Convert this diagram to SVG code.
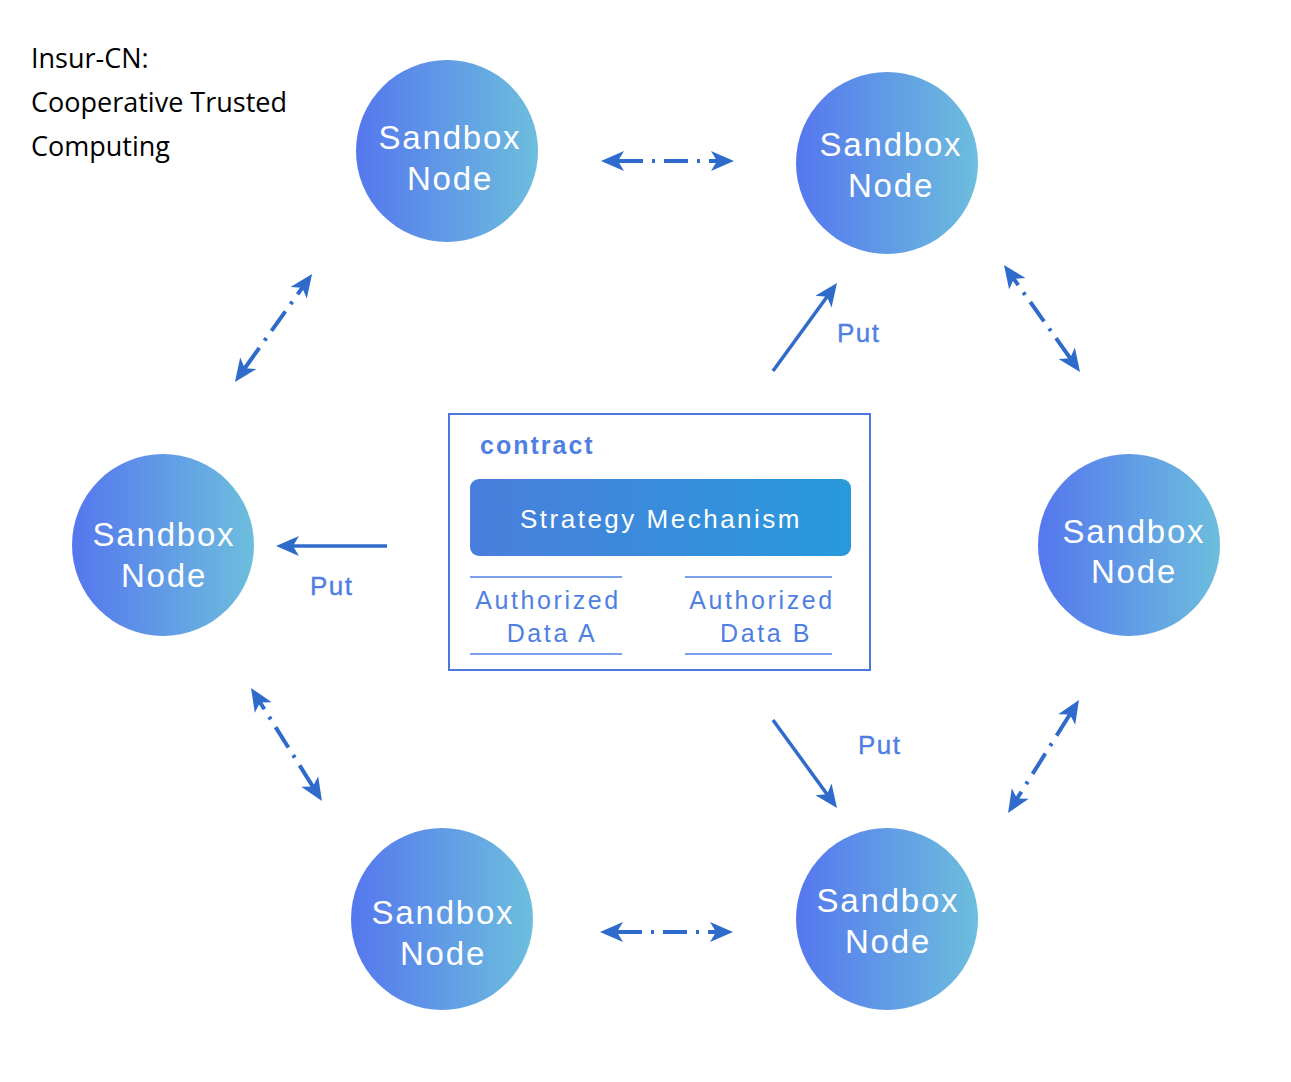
<svg xmlns="http://www.w3.org/2000/svg" width="1291" height="1082" viewBox="0 0 1291 1082">
<defs>
<linearGradient id="gNode" x1="0" y1="0" x2="1" y2="0">
<stop offset="0" stop-color="#5577EE"/>
<stop offset="1" stop-color="#6CBEDD"/>
</linearGradient>
<linearGradient id="gStrat" x1="0" y1="0" x2="1" y2="0">
<stop offset="0" stop-color="#4A7EDC"/>
<stop offset="1" stop-color="#289ADB"/>
</linearGradient>
<marker id="ah" markerUnits="userSpaceOnUse" markerWidth="26" markerHeight="20" refX="15" refY="10" orient="auto-start-reverse" overflow="visible">
<path d="M0,0 L23,10 L0,20 L6,10 Z" fill="#2F6BCB"/>
</marker>
<style>
.node circle{fill:url(#gNode);}
.node text{font-family:"Liberation Sans",Arial,sans-serif;font-size:33px;fill:#FFFFFF;text-anchor:middle;letter-spacing:1.8px;}
.title{font-family:"Open Sans","Noto Sans",sans-serif;font-size:27px;fill:#000000;}
.dd{fill:none;stroke:#2F6BCB;stroke-width:4;stroke-dasharray:34 9 3 9 24 9 3 9 17;marker-start:url(#ah);marker-end:url(#ah);}
.put{fill:none;stroke:#2F6BCB;stroke-width:3.5;marker-end:url(#ah);}
.lbl{font-family:"Liberation Sans",Arial,sans-serif;font-size:26px;fill:#4F7FE2;letter-spacing:1.5px;stroke:#4F7FE2;stroke-width:0.4;}
.auth{font-family:"Liberation Sans",Arial,sans-serif;font-size:25px;fill:#4F7FE2;letter-spacing:2.6px;text-anchor:middle;}
.sep{stroke:#4F7FE2;stroke-width:1.5;}
</style>
</defs>
<rect width="1291" height="1082" fill="#FFFFFF"/>

<g id="title">
<text class="title" x="31" y="68">Insur-CN:</text>
<text class="title" x="31" y="112">Cooperative Trusted</text>
<text class="title" x="31" y="156">Computing</text>
</g>

<g id="connectors">
<path class="dd" pathLength="117" d="M609,161 L726,161"/>
<path class="dd" pathLength="117" d="M608,932 L725,932"/>
<path class="dd" pathLength="117" d="M239.6,375.5 L307.4,280.5"/>
<path class="dd" pathLength="117" d="M1075.4,365.5 L1008.6,271.5"/>
<path class="dd" pathLength="117" d="M317.7,794.2 L255.3,694.8"/>
<path class="dd" pathLength="117" d="M1074.7,706.8 L1012.3,806.2"/>
<path class="put" d="M387,546 L284,546"/>
<path class="put" d="M773,371 L832.3,289.5"/>
<path class="put" d="M773,720 L832.3,801.5"/>
<text class="lbl" x="837" y="342">Put</text>
<text class="lbl" x="310" y="595">Put</text>
<text class="lbl" x="858" y="754">Put</text>
</g>

<g id="node-top-left" class="node">
<circle cx="447" cy="151" r="91"/>
<text x="450" y="149">Sandbox</text>
<text x="450" y="190">Node</text>
</g>
<g id="node-top-right" class="node">
<circle cx="887" cy="163" r="91"/>
<text x="891" y="156">Sandbox</text>
<text x="891" y="197">Node</text>
</g>
<g id="node-left" class="node">
<circle cx="163" cy="545" r="91"/>
<text x="164" y="546">Sandbox</text>
<text x="164" y="587">Node</text>
</g>
<g id="node-right" class="node">
<circle cx="1129" cy="545" r="91"/>
<text x="1134" y="543">Sandbox</text>
<text x="1134" y="583">Node</text>
</g>
<g id="node-bottom-left" class="node">
<circle cx="442" cy="919" r="91"/>
<text x="443" y="924">Sandbox</text>
<text x="443" y="965">Node</text>
</g>
<g id="node-bottom-right" class="node">
<circle cx="887" cy="919" r="91"/>
<text x="888" y="912">Sandbox</text>
<text x="888" y="953">Node</text>
</g>

<g id="contract">
<rect x="449" y="414" width="421" height="256" fill="#FFFFFF" stroke="#4A78DD" stroke-width="2"/>
<text x="480" y="454" font-family="'Liberation Sans',Arial,sans-serif" font-size="25" font-weight="bold" fill="#4F7FE2" letter-spacing="2">contract</text>
<g id="strategy">
<rect x="470" y="479" width="381" height="77" rx="9" fill="url(#gStrat)"/>
<text x="661" y="528" font-family="'Liberation Sans',Arial,sans-serif" font-size="26" fill="#FFFFFF" text-anchor="middle" letter-spacing="2.5">Strategy Mechanism</text>
</g>
<g id="data-a">
<line class="sep" x1="470" y1="577" x2="622" y2="577"/>
<line class="sep" x1="470" y1="654" x2="622" y2="654"/>
<text class="auth" x="548" y="609">Authorized</text>
<text class="auth" x="552" y="642">Data A</text>
</g>
<g id="data-b">
<line class="sep" x1="685" y1="577" x2="832" y2="577"/>
<line class="sep" x1="685" y1="654" x2="832" y2="654"/>
<text class="auth" x="762" y="609">Authorized</text>
<text class="auth" x="766" y="642">Data B</text>
</g>
</g>
</svg>
